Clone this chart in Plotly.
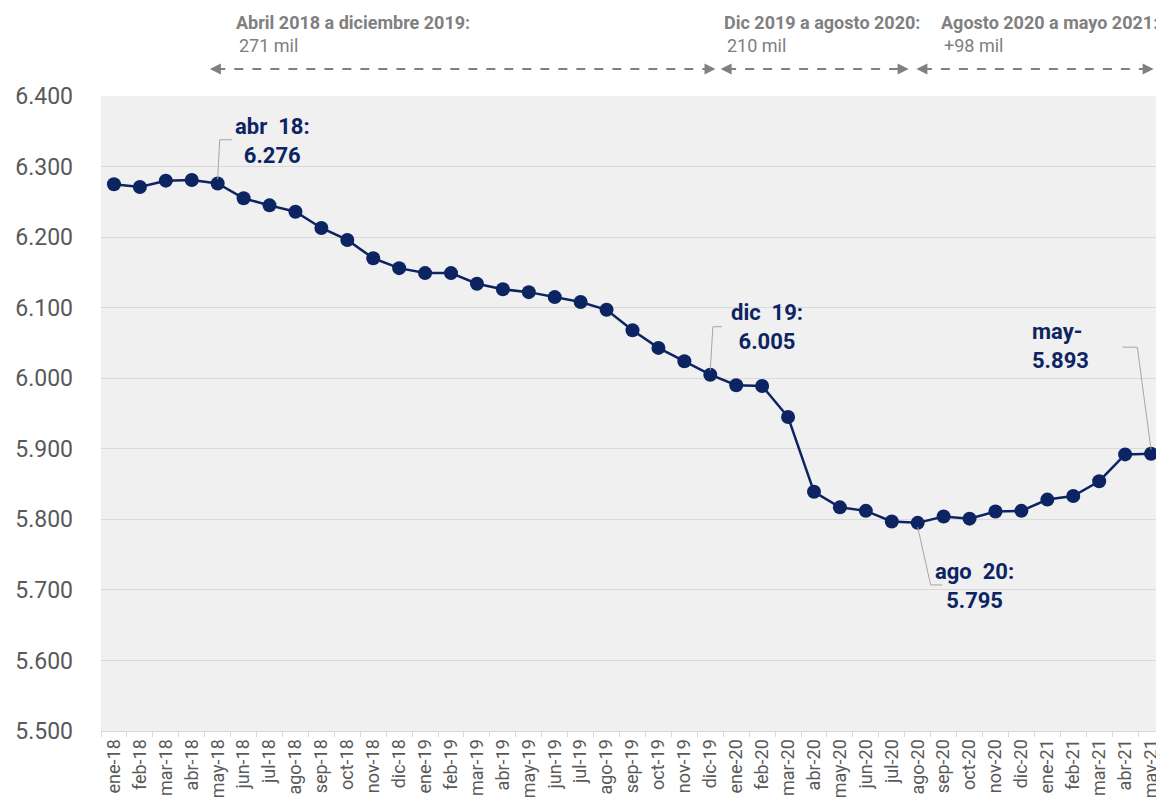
import plotly.graph_objects as go

months = ["ene-18","feb-18","mar-18","abr-18","may-18","jun-18","jul-18","ago-18","sep-18","oct-18","nov-18","dic-18",
          "ene-19","feb-19","mar-19","abr-19","may-19","jun-19","jul-19","ago-19","sep-19","oct-19","nov-19","dic-19",
          "ene-20","feb-20","mar-20","abr-20","may-20","jun-20","jul-20","ago-20","sep-20","oct-20","nov-20","dic-20",
          "ene-21","feb-21","mar-21","abr-21","may-21"]
values = [6275, 6271, 6280, 6281, 6276, 6255, 6245, 6236, 6213, 6196, 6170, 6156,
          6149, 6149, 6134, 6126, 6122, 6115, 6108, 6097, 6068, 6043, 6024, 6005,
          5990, 5989, 5945, 5839, 5817, 5812, 5797, 5795, 5804, 5801, 5811, 5812,
          5828, 5833, 5854, 5892, 5893]

NAVY = "#0c2461"
GRAY = "#808080"
LEAD = "#a6a6a6"

fig = go.Figure()
fig.add_trace(go.Scatter(x=months, y=values, mode="lines+markers",
                         line=dict(color=NAVY, width=2.5),
                         marker=dict(color=NAVY, size=14), hoverinfo="skip"))

# leader lines (data coords: category index, value)
leaders = [
    [(4, 6282), (4.08, 6338), (4.55, 6338)],
    [(23, 6011), (23.1, 6073), (23.45, 6073)],
    [(31, 5789), (31.5, 5707), (31.95, 5707)],
    [(40, 5899), (39.47, 6044), (38.9, 6044)],
]
shapes = []
for pts in leaders:
    path = "M " + " L ".join(f"{x},{y}" for x, y in pts)
    shapes.append(dict(type="path", path=path, xref="x", yref="y",
                       line=dict(color=LEAD, width=1)))

# dashed range arrows
ranges = [(3.7, 23.2), (23.4, 30.65), (30.95, 40.1)]
ARROW_Y = 1.0425
for a, b in ranges:
    shapes.append(dict(type="line", xref="x", yref="paper", x0=a + 0.25, x1=b - 0.25,
                       y0=ARROW_Y, y1=ARROW_Y, line=dict(color=GRAY, width=2, dash="dash")))

annotations = []
for a, b in ranges:
    for tip, off in ((a, 10), (b, -10)):
        annotations.append(dict(x=tip, y=ARROW_Y, xref="x", yref="paper", text="",
                                showarrow=True, ax=off, ay=0, arrowhead=2, arrowsize=1.1,
                                arrowwidth=2, arrowcolor=GRAY))

# callouts
callouts = [
    (6.1, 6336, "abr  18:<br>6.276", "center"),
    (25.2, 6073, "dic  19:<br>6.005", "center"),
    (33.2, 5706, "ago  20:<br>5.795", "center"),
    (36.5, 6045, "may-<br>5.893", "left"),
]
for x, y, t, al in callouts:
    annotations.append(dict(x=x, y=y, xref="x", yref="y", text=f"<b>{t}</b>", showarrow=False,
                            align=al, font=dict(family="Roboto", size=22, color=NAVY)))

# top period labels
tops = [
    (0.125, "Abril 2018 a diciembre 2019:", "271 mil"),
    (0.584, "Dic 2019 a agosto 2020:", "210 mil"),
    (0.788, "Agosto 2020 a mayo 2021:", "+98 mil"),
]
for x, t1, t2 in tops:
    annotations.append(dict(x=x, y=1.1165, xref="paper", yref="paper", text=f"<b>{t1}</b>",
                            showarrow=False, xanchor="left", yanchor="middle",
                            font=dict(family="Roboto", size=18, color=GRAY)))
    annotations.append(dict(x=x + 0.003, y=1.080, xref="paper", yref="paper", text=t2,
                            showarrow=False, xanchor="left", yanchor="middle",
                            font=dict(family="Roboto", size=18, color=GRAY)))

fig.update_layout(
    width=1156, height=796,
    margin=dict(l=93, r=0, t=88, b=73),
    paper_bgcolor="white", plot_bgcolor="#f0f0f0",
    separators=",.",
    showlegend=False,
    font=dict(family="Roboto", color="#595959"),
    shapes=shapes, annotations=annotations,
    xaxis=dict(type="category", categoryorder="array", categoryarray=months,
               range=[-0.5, len(months) - 0.5], tickangle=-90,
               tickfont=dict(family="Roboto", size=18, color="#595959"),
               showgrid=False, zeroline=False, showline=True, linecolor="#d9d9d9", linewidth=1,
               ticks="outside", tickson="boundaries", ticklen=5, tickcolor="#d9d9d9",
               automargin=False),
    yaxis=dict(range=[5500, 6400], tickmode="linear", tick0=5500, dtick=100, tickformat=",d",
               tickfont=dict(family="Roboto", size=23, color="#595959"),
               showgrid=True, gridcolor="#d9d9d9", gridwidth=1, zeroline=False,
               showline=False, ticks="", ticklabelstandoff=27, automargin=False),
)

fig.write_html("out.html")
